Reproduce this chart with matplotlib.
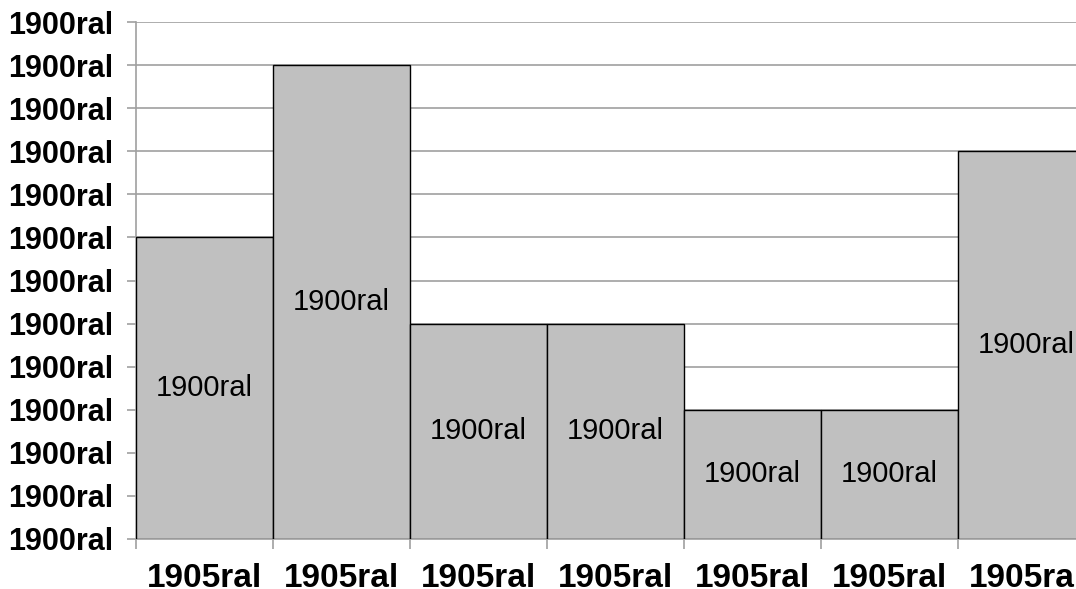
import matplotlib
matplotlib.use("Agg")
import matplotlib.pyplot as plt
import numpy as np

categories = ["1905ral"] * 7
values = [7, 11, 5, 5, 3, 3, 9]
bar_labels = ["1900ral"] * 7
y_ticks = list(range(0, 13))
y_tick_labels = ["1900ral"] * 13

W, H = 1076, 589
fig = plt.figure(figsize=(W / 100, H / 100), dpi=100)
left, right, bottom, top = 136, 1095, 539, 22
ax = fig.add_axes([left / W, (H - bottom) / H, (right - left) / W, (bottom - top) / H])

x = np.arange(len(values))
ax.bar(x, values, width=1.0, color="#C0C0C0", edgecolor="black", linewidth=1.0, zorder=3)
for xi, v, lab in zip(x, values, bar_labels):
    ax.text(xi, v / 2, lab, ha="center", va="center", fontsize=21,
            family="Liberation Sans", color="black", zorder=4)

ax.set_xlim(-0.5, len(values) - 0.5)
ax.set_ylim(0, 12)
ax.set_yticks(y_ticks)
ax.set_yticklabels(y_tick_labels, fontsize=22, fontweight="bold", family="Liberation Sans")
ax.set_xticks(x)
ax.set_xticklabels(categories, fontsize=24, fontweight="bold", family="Liberation Sans")
ax.set_xticks(np.arange(len(values) + 1) - 0.5, minor=True)
ax.tick_params(axis="x", which="major", length=0, pad=17.5)
ax.tick_params(axis="x", which="minor", length=7, color="#A0A0A0", width=1.2)
ax.tick_params(axis="y", length=6.5, color="#A0A0A0", width=1.2, pad=10)
ax.yaxis.grid(True, color="#A0A0A0", linewidth=1.2, zorder=0)
ax.set_axisbelow(True)
for s in ["top", "right"]:
    ax.spines[s].set_visible(False)
for s in ["left", "bottom"]:
    ax.spines[s].set_color("#A0A0A0")
    ax.spines[s].set_linewidth(1.2)

fig.savefig("out.png", dpi=100)
